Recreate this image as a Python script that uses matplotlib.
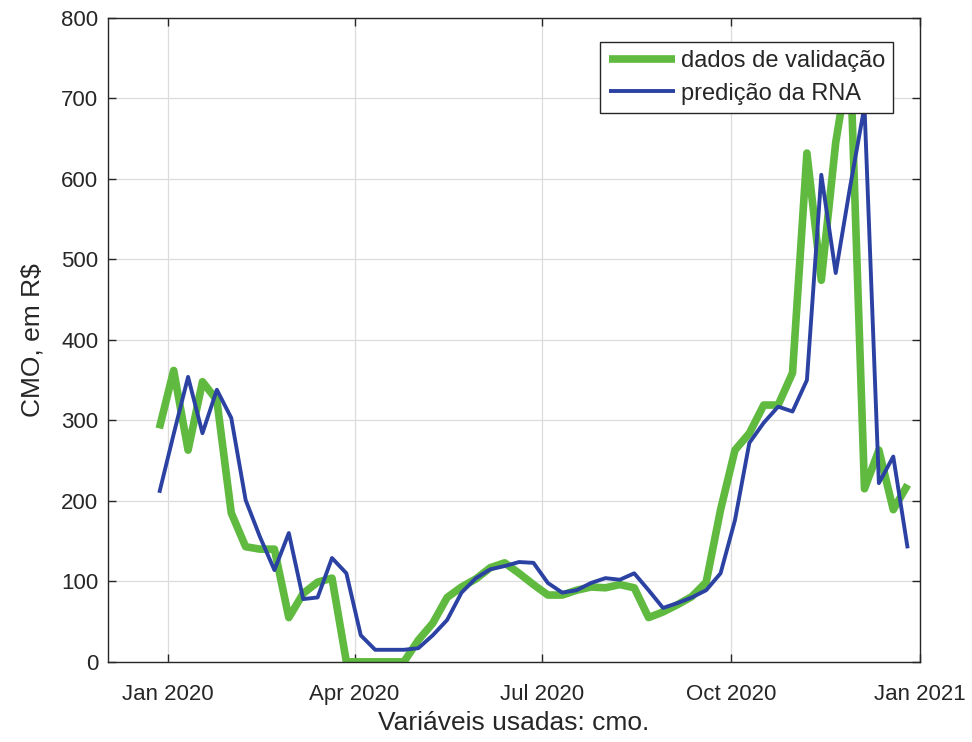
import datetime as dt

import matplotlib
matplotlib.use("Agg")
import matplotlib.pyplot as plt
import matplotlib.dates as mdates

plt.rcParams['font.family'] = ['Liberation Sans', 'DejaVu Sans']

# semanas de dez/2019 a dez/2020
inicio = dt.date(2019, 12, 28)
n_semanas = 53
datas = [inicio + dt.timedelta(days=7 * i) for i in range(n_semanas)]

cmo_validacao = [
    290, 362, 263, 348, 325, 185, 143, 140, 140, 55,
    85, 99, 104, 0, 0, 0, 0, 0, 27, 48,
    80, 93, 103, 117, 123, 110, 96, 83, 83, 89,
    93, 92, 96, 92, 55, 62, 71, 81, 99, 189,
    263, 284, 319, 319, 359, 632, 474, 645, 755, 215,
    263, 189, 220,
]

cmo_predicao = [
    210, 283, 354, 284, 338, 303, 201, 155, 114, 160,
    78, 80, 129, 110, 33, 15, 15, 15, 17, 33,
    52, 86, 104, 115, 119, 124, 123, 98, 86, 89,
    98, 104, 102, 110, 89, 67, 73, 80, 89, 110,
    176, 272, 297, 317, 311, 350, 605, 483, 590, 690,
    222, 255, 141,
]

rotulos = ['dados de validação', 'predição da RNA']
cor_verde = '#5fba3f'
cor_azul = '#2c42a3'
cinza = '#262626'

fig = plt.figure(figsize=(9.72, 7.42), dpi=100)
ax = fig.add_axes([0.111, 0.108, 0.8355, 0.868])

ax.plot(datas, cmo_validacao, color=cor_verde, lw=5.5, label=rotulos[0],
        solid_joinstyle='round', solid_capstyle='butt')
ax.plot(datas, cmo_predicao, color=cor_azul, lw=2.8, label=rotulos[1],
        solid_joinstyle='round', solid_capstyle='butt')

ax.set_xlim(dt.date(2019, 12, 3), dt.date(2021, 1, 1))
ax.set_ylim(0, 800)
ax.set_yticks(range(0, 801, 100))

ticks_x = [dt.date(2020, 1, 1), dt.date(2020, 4, 1), dt.date(2020, 7, 1),
           dt.date(2020, 10, 1), dt.date(2021, 1, 1)]
ax.set_xticks(ticks_x)
ax.xaxis.set_major_formatter(mdates.DateFormatter('%b %Y'))

ax.grid(True, color='#dcdcdc', lw=0.9)
ax.set_axisbelow(True)
ax.tick_params(direction='in', top=True, right=True, length=6, width=1,
               colors=cinza, labelsize=16, pad=7)
ax.tick_params(axis='x', pad=16)
for sp in ax.spines.values():
    sp.set_color(cinza)
    sp.set_linewidth(1.0)

ax.set_xlabel('Variáveis usadas: cmo.', fontsize=19, color=cinza, labelpad=4)
ax.set_ylabel('CMO, em R$', fontsize=19, color=cinza, labelpad=12)

leg = ax.legend(loc='upper right', bbox_to_anchor=(0.967, 0.963), fontsize=17,
                frameon=True, fancybox=False, framealpha=1, edgecolor=cinza,
                handlelength=2.8, handletextpad=0.25, borderpad=0.35,
                labelspacing=0.45, borderaxespad=0)
leg.get_frame().set_linewidth(1.0)
for t in leg.get_texts():
    t.set_color(cinza)

fig.savefig('out.png', dpi=100)
